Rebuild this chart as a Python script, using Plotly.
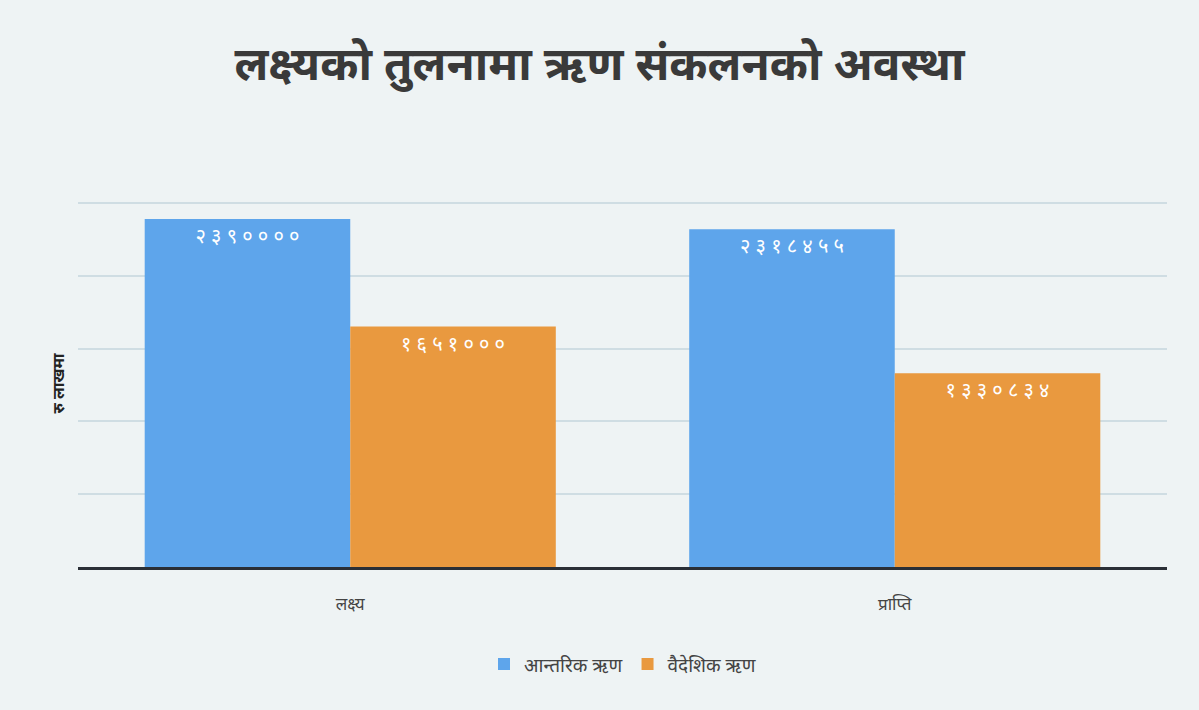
import plotly.graph_objects as go

categories = ["लक्ष्य", "प्राप्ति"]
series_names = ["आन्तरिक ऋण", "वैदेशिक ऋण"]
internal_debt = [2390000, 2318455]
external_debt = [1651000, 1330834]
colors = ["#5ea5eb", "#e9993f"]

DEV = str.maketrans("0123456789", "०१२३४५६७८९")
def dev(v):
    return " ".join(str(v).translate(DEV))

fig = go.Figure()
for name, vals, col in zip(series_names, [internal_debt, external_debt], colors):
    fig.add_trace(go.Bar(
        x=categories, y=vals, name=name,
        marker=dict(color=col, line=dict(width=0)),
        text=[dev(v) for v in vals],
        textposition="inside", insidetextanchor="end",
        textfont=dict(color="white", size=20, family="Noto Sans, sans-serif"),
        textangle=0,
    ))

fig.update_layout(
    width=1199, height=710,
    paper_bgcolor="#eef3f4", plot_bgcolor="rgba(0,0,0,0)",
    margin=dict(l=78, r=32, t=200, b=143),
    barmode="group", bargap=0.245, bargroupgap=0,
    title=dict(text="<b>लक्ष्यको तुलनामा ऋण संकलनको अवस्था</b>",
               x=0.5, xanchor="center", y=0.91, yanchor="middle",
               font=dict(size=46, color="#3a3a3a", family="Noto Sans, sans-serif")),
    showlegend=True,
    legend=dict(orientation="h", x=0.5, xanchor="center", y=-0.265, yanchor="middle",
                font=dict(size=19, color="#444444", family="Noto Sans, sans-serif"),
                bgcolor="rgba(0,0,0,0)", itemsizing="constant"),
)
fig.update_xaxes(showline=True, linecolor="#2a2f36", linewidth=3,
                 tickfont=dict(size=17, color="#444444", family="Noto Sans, sans-serif"),
                 ticks="", ticklabelstandoff=20)
fig.update_yaxes(range=[0, 2520000], tickvals=[500000, 1000000, 1500000, 2000000, 2500000],
                 showticklabels=False,
                 gridcolor="#cfdde3", gridwidth=2, zeroline=False,
                 title=dict(text="<b>रु लाखमा</b>", standoff=8,
                            font=dict(size=16, color="#222222", family="Noto Sans, sans-serif")))

fig.write_html("out.html", config={"displayModeBar": False},
               post_script="document.body.style.margin='0';document.body.style.padding='0';")
